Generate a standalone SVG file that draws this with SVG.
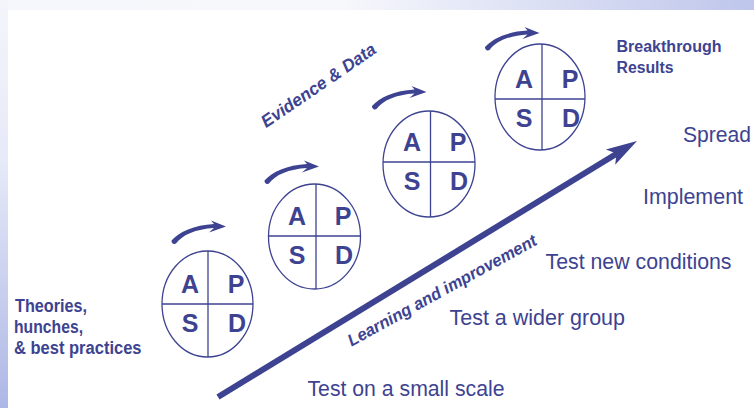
<svg xmlns="http://www.w3.org/2000/svg" width="754" height="408" viewBox="0 0 754 408">
  <style>
    .cyc ellipse { fill: #ffffff; stroke: #3d4391; stroke-width: 1.3; }
    .cyc line { stroke: #3d4391; stroke-width: 1.3; }
    .cyc text { font-family: "Liberation Sans", Arial, sans-serif; font-weight: bold; font-size: 25px; fill: #3d4391; text-anchor: middle; }
    .step { font-family: "Liberation Sans", Arial, sans-serif; font-size: 22px; fill: #3d4391; }
    .lbl { font-family: "Liberation Sans", Arial, sans-serif; font-weight: bold; fill: #3d4391; }
    .diag { font-family: "Liberation Sans", Arial, sans-serif; font-weight: bold; font-style: italic; fill: #3d4391; }
    .swoosh { fill: #3d4391; }
  </style>
  <defs>
    <linearGradient id="topband" x1="0" y1="0" x2="1" y2="0">
      <stop offset="0" stop-color="#f6f7fc"/>
      <stop offset="0.45" stop-color="#f7f8fc"/>
      <stop offset="1" stop-color="#bec6eb"/>
    </linearGradient>
    <linearGradient id="leftband" x1="0" y1="0" x2="0" y2="1">
      <stop offset="0" stop-color="#f4f5fb"/>
      <stop offset="0.4" stop-color="#e6e9f7"/>
      <stop offset="1" stop-color="#adb7e6"/>
    </linearGradient>
    <path id="swoosh" d="M 2,1.5 C 8,-7 22,-13 40,-14 L 35,-9.5 L 52,-15.5 L 37,-21.5 L 40,-18 C 20,-17 5,-10 -2.5,-1.5 A 3 3 0 0 0 2,1.5 Z"/>
  </defs>

  <rect x="0" y="0" width="754" height="408" fill="#ffffff"/>
  <rect x="0" y="0" width="754" height="10" fill="url(#topband)"/>
  <rect x="0" y="0" width="8" height="408" fill="url(#leftband)"/>

  <g id="connectors">
    <use href="#swoosh" class="swoosh" transform="translate(174,242)"/>
    <use href="#swoosh" class="swoosh" transform="translate(267,182)"/>
    <use href="#swoosh" class="swoosh" transform="translate(374.5,107.5)"/>
    <use href="#swoosh" class="swoosh" transform="translate(487.5,48.5)"/>
    <g id="main-arrow">
      <line x1="218" y1="397" x2="617" y2="153.5" stroke="#3d4391" stroke-width="6"/>
      <polygon points="637,141 605.8,149.4 616.5,153.4 615.2,164.8" fill="#3d4391"/>
    </g>
  </g>

  <g id="cycle1" class="cyc">
    <ellipse cx="207.5" cy="304" rx="45.5" ry="53"/>
    <line x1="208" y1="251" x2="208" y2="357"/>
    <line x1="162" y1="304" x2="253" y2="304"/>
    <text x="190" y="293">A</text>
    <text x="236" y="293">P</text>
    <text x="190" y="332">S</text>
    <text x="237" y="332">D</text>
  </g>

  <g id="cycle2" class="cyc">
    <ellipse cx="314.5" cy="236.5" rx="46" ry="52.5"/>
    <line x1="316" y1="184" x2="316" y2="289"/>
    <line x1="268.5" y1="236" x2="360.5" y2="236"/>
    <text x="297" y="225">A</text>
    <text x="343" y="225">P</text>
    <text x="297" y="264">S</text>
    <text x="344" y="264">D</text>
  </g>

  <g id="cycle3" class="cyc">
    <ellipse cx="429" cy="164" rx="46" ry="53"/>
    <line x1="430.5" y1="111" x2="430.5" y2="217"/>
    <line x1="383" y1="162" x2="475" y2="162"/>
    <text x="412" y="151">A</text>
    <text x="458" y="151">P</text>
    <text x="412" y="190">S</text>
    <text x="459" y="190">D</text>
  </g>

  <g id="cycle4" class="cyc">
    <ellipse cx="540" cy="97" rx="45" ry="53"/>
    <line x1="542" y1="44" x2="542" y2="150"/>
    <line x1="495" y1="99" x2="585" y2="99"/>
    <text x="524" y="88">A</text>
    <text x="570" y="88">P</text>
    <text x="524" y="127">S</text>
    <text x="571" y="127">D</text>
  </g>

  <g id="label-theories">
    <text class="lbl" font-size="18" x="15" y="311.5" textLength="72" lengthAdjust="spacingAndGlyphs">Theories,</text>
    <text class="lbl" font-size="18" x="14" y="332.5" textLength="69" lengthAdjust="spacingAndGlyphs">hunches,</text>
    <text class="lbl" font-size="18" x="14" y="353.5" textLength="127.5" lengthAdjust="spacingAndGlyphs">&amp; best practices</text>
  </g>

  <g id="label-breakthrough">
    <text class="lbl" font-size="16" x="616.5" y="52.3" textLength="105" lengthAdjust="spacingAndGlyphs">Breakthrough</text>
    <text class="lbl" font-size="16" x="616.5" y="73.3" textLength="57" lengthAdjust="spacingAndGlyphs">Results</text>
  </g>

  <g id="label-evidence">
    <text class="diag" font-size="17.5" transform="translate(266,128.3) rotate(-34.3)" x="0" y="0" textLength="135" lengthAdjust="spacingAndGlyphs">Evidence &amp; Data</text>
  </g>

  <g id="label-learning">
    <text class="diag" font-size="17" transform="translate(351.5,346.7) rotate(-28.8)" x="0" y="0" textLength="213" lengthAdjust="spacingAndGlyphs">Learning and improvement</text>
  </g>

  <g id="step-small"><text class="step" x="307.5" y="396" textLength="197" lengthAdjust="spacingAndGlyphs">Test on a small scale</text></g>
  <g id="step-wider"><text class="step" x="449.5" y="325" textLength="175.5" lengthAdjust="spacingAndGlyphs">Test a wider group</text></g>
  <g id="step-conditions"><text class="step" x="545.5" y="268.5" textLength="186" lengthAdjust="spacingAndGlyphs">Test new conditions</text></g>
  <g id="step-implement"><text class="step" x="643" y="203.5" textLength="100" lengthAdjust="spacingAndGlyphs">Implement</text></g>
  <g id="step-spread"><text class="step" x="683" y="141.5" textLength="68" lengthAdjust="spacingAndGlyphs">Spread</text></g>
</svg>
